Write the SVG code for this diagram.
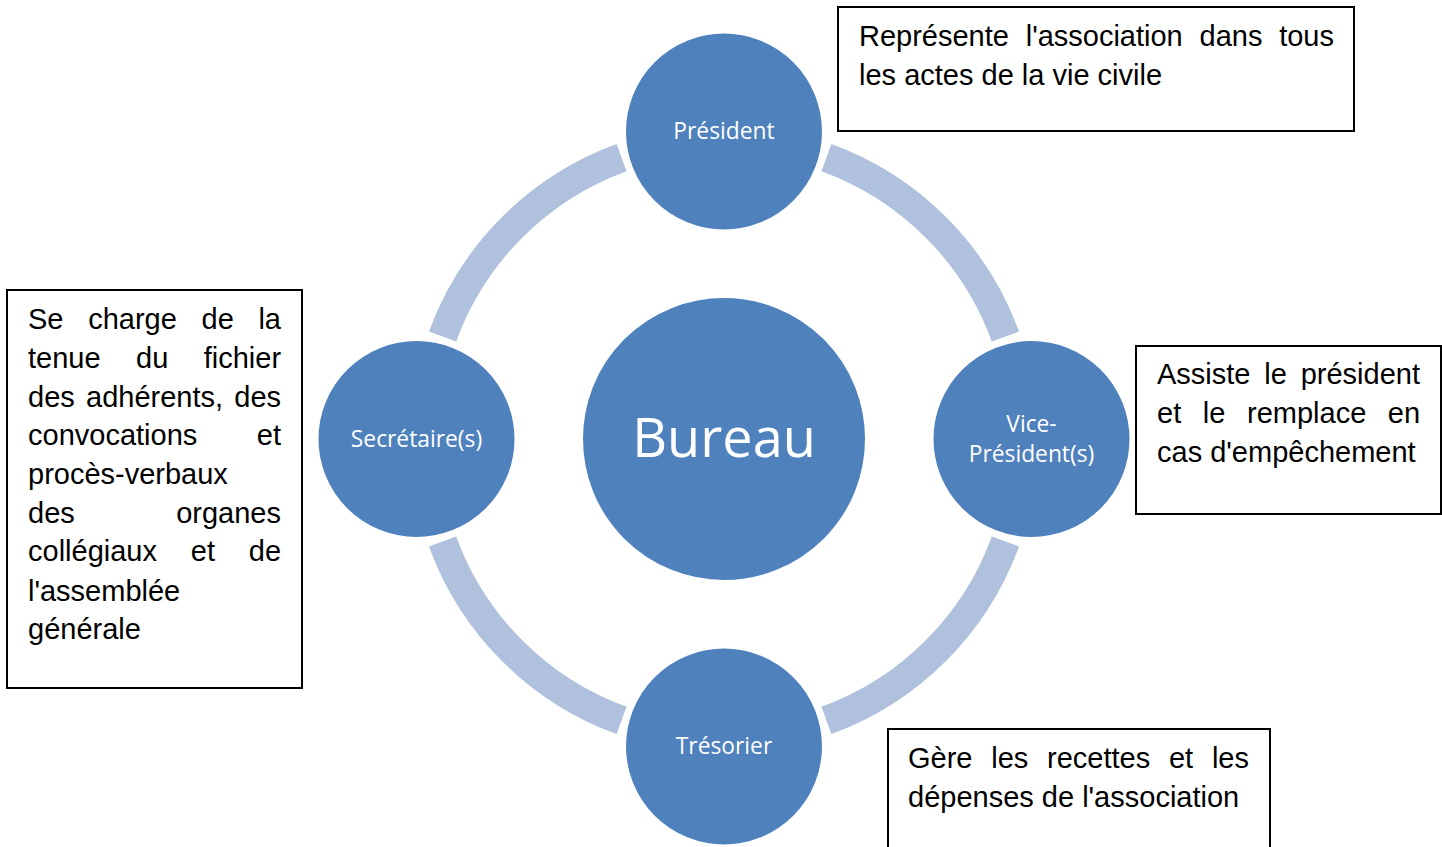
<svg xmlns="http://www.w3.org/2000/svg" width="1442" height="847" viewBox="0 0 1442 847">
<style>
.ring{fill:none;stroke:#B0C1DD;stroke-width:29;stroke-linecap:butt}
.node{fill:#4F81BD;stroke:#FFFFFF;stroke-width:2}
.lbl{font-family:"Open Sans","Noto Sans",sans-serif;font-size:22.8px;fill:#FFFFFF;text-anchor:middle}
.big{font-family:"Open Sans","Noto Sans",sans-serif;font-size:54px;fill:#FFFFFF;text-anchor:middle}
.box{fill:#FFFFFF;stroke:#000000;stroke-width:2}
.t{font-family:"Liberation Sans",Arial,sans-serif;font-size:29px;fill:#000000}
</style>
<rect width="1442" height="847" fill="#FFFFFF"/>
<g id="connectors">
<path class="ring" d="M826.43,157.56 A299.5,299.5 0 0 1 1005.44,336.57"/>
<path class="ring" d="M1005.44,541.43 A299.5,299.5 0 0 1 826.43,720.44"/>
<path class="ring" d="M621.57,720.44 A299.5,299.5 0 0 1 442.56,541.43"/>
<path class="ring" d="M442.56,336.57 A299.5,299.5 0 0 1 621.57,157.56"/>
</g>
<g id="bureau">
<circle class="node" cx="724" cy="439" r="142"/>
<text class="big" x="724" y="457">Bureau</text>
</g>
<g id="president">
<circle class="node" cx="724" cy="131.5" r="99"/>
<text class="lbl" x="724" y="139">Président</text>
</g>
<g id="vice-president">
<circle class="node" cx="1031.5" cy="439" r="99"/>
<text class="lbl" x="1031.5" y="432">Vice-</text>
<text class="lbl" x="1031.5" y="462">Président(s)</text>
</g>
<g id="tresorier">
<circle class="node" cx="724" cy="746.5" r="99"/>
<text class="lbl" x="724" y="754">Trésorier</text>
</g>
<g id="secretaire">
<circle class="node" cx="416.5" cy="439" r="99"/>
<text class="lbl" x="416.5" y="447">Secrétaire(s)</text>
</g>
<g id="note-president">
<rect class="box" x="838" y="7" width="516" height="124"/>
<text class="t" y="46"><tspan x="859">Représente</tspan><tspan x="1025.7">l'association</tspan><tspan x="1199.5">dans</tspan><tspan x="1279.2">tous</tspan></text>
<text class="t" x="859" y="85">les actes de la vie civile</text>
</g>
<g id="note-vice-president">
<rect class="box" x="1136" y="346" width="305" height="168"/>
<text class="t" y="384"><tspan x="1157">Assiste</tspan><tspan x="1264.3">le</tspan><tspan x="1300.7">président</tspan></text>
<text class="t" y="423"><tspan x="1157">et</tspan><tspan x="1202.8">le</tspan><tspan x="1247">remplace</tspan><tspan x="1387.8">en</tspan></text>
<text class="t" x="1157" y="462">cas d'empêchement</text>
</g>
<g id="note-tresorier">
<rect class="box" x="888" y="729" width="382" height="140"/>
<text class="t" y="768"><tspan x="908">Gère</tspan><tspan x="991.2">les</tspan><tspan x="1047">recettes</tspan><tspan x="1168.9">et</tspan><tspan x="1211.9">les</tspan></text>
<text class="t" x="908" y="807">dépenses de l'association</text>
</g>
<g id="note-secretaire">
<rect class="box" x="7" y="290" width="295" height="398"/>
<text class="t" y="328.5"><tspan x="28">Se</tspan><tspan x="88.2">charge</tspan><tspan x="201.6">de</tspan><tspan x="258.4">la</tspan></text>
<text class="t" y="367.5"><tspan x="28">tenue</tspan><tspan x="136">du</tspan><tspan x="203.7">fichier</tspan></text>
<text class="t" y="406.5"><tspan x="28">des</tspan><tspan x="86">adhérents,</tspan><tspan x="234.3">des</tspan></text>
<text class="t" y="444.5"><tspan x="28">convocations</tspan><tspan x="256.8">et</tspan></text>
<text class="t" x="28" y="483.5">procès-verbaux</text>
<text class="t" y="522.5"><tspan x="28">des</tspan><tspan x="176.2">organes</tspan></text>
<text class="t" y="560.5"><tspan x="28">collégiaux</tspan><tspan x="190.8">et</tspan><tspan x="248.8">de</tspan></text>
<text class="t" x="28" y="600.5">l'assemblée</text>
<text class="t" x="28" y="638.5">générale</text>
</g>
</svg>
